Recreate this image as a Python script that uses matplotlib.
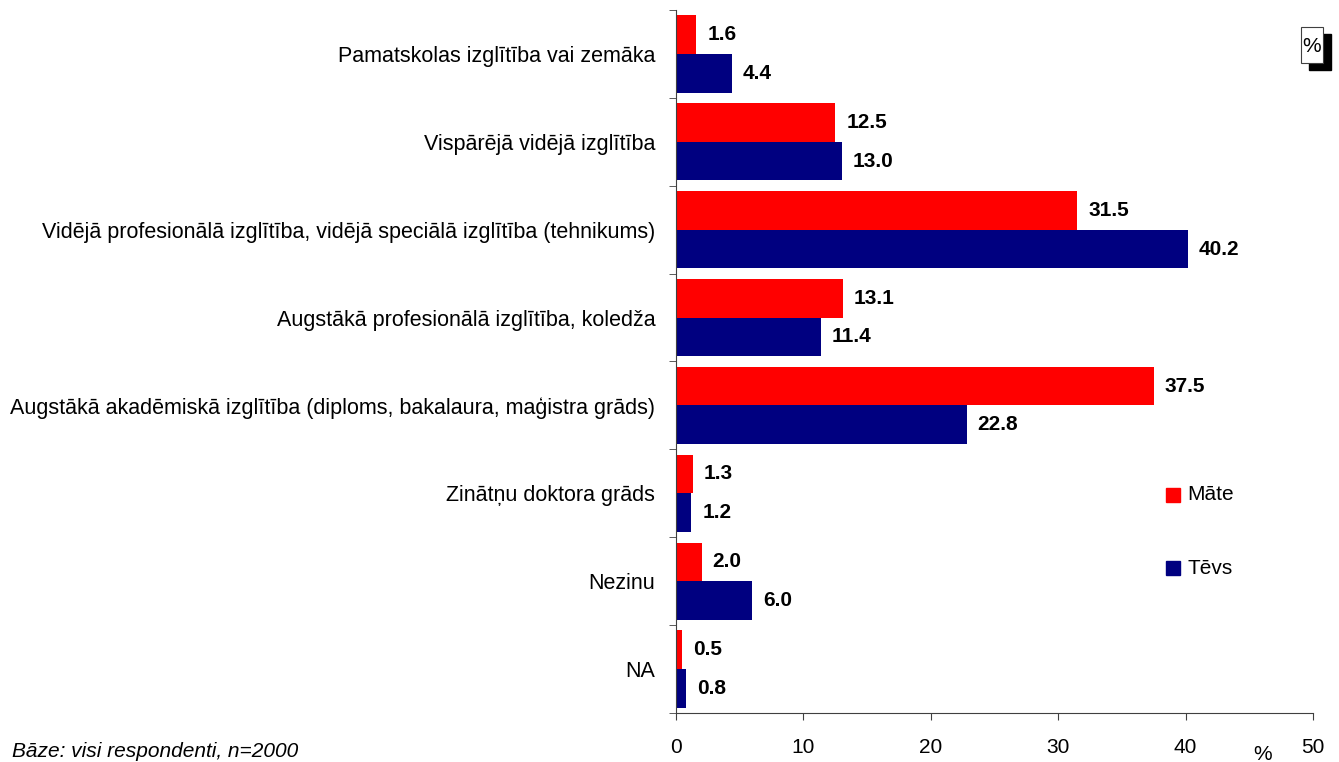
import matplotlib.pyplot as plt
import numpy as np
from matplotlib.patches import Rectangle

plt.rcParams['font.family'] = ['Liberation Sans', 'DejaVu Sans']

categories = [
    'Pamatskolas izglītība vai zemāka',
    'Vispārējā vidējā izglītība',
    'Vidējā profesionālā izglītība, vidējā speciālā izglītība (tehnikums)',
    'Augstākā profesionālā izglītība, koledža',
    'Augstākā akadēmiskā izglītība (diploms, bakalaura, maģistra grāds)',
    'Zinātņu doktora grāds',
    'Nezinu',
    'NA',
]
mate = [1.6, 12.5, 31.5, 13.1, 37.5, 1.3, 2.0, 0.5]
tevs = [4.4, 13.0, 40.2, 11.4, 22.8, 1.2, 6.0, 0.8]
series_names = ['Māte', 'Tēvs']
red = '#ff0000'
navy = '#000080'
fs = 15

fig = plt.figure(figsize=(13.39, 7.62), dpi=100)
ax = fig.add_axes([0.5049, 0.0643, 0.4757, 0.9226])

y = np.arange(len(categories))
h = 0.44
ax.barh(y - h / 2, mate, height=h, color=red)
ax.barh(y + h / 2, tevs, height=h, color=navy)

for i in range(len(categories)):
    ax.text(mate[i] + 0.85, y[i] - h / 2, f'{mate[i]:.1f}', va='center', ha='left',
            fontsize=fs, fontweight='bold')
    ax.text(tevs[i] + 0.85, y[i] + h / 2, f'{tevs[i]:.1f}', va='center', ha='left',
            fontsize=fs, fontweight='bold')

ax.set_xlim(0, 50)
ax.set_ylim(len(categories) - 0.5, -0.5)
ax.set_xticks([0, 10, 20, 30, 40, 50])
ax.tick_params(axis='x', labelsize=fs, length=5, pad=13, color='#404040')
ax.set_yticks(y)
ax.set_yticklabels(categories, fontsize=15.5)
ax.tick_params(axis='y', length=0, pad=15)
ax.set_yticks(np.arange(len(categories) + 1) - 0.5, minor=True)
ax.tick_params(axis='y', which='minor', length=5, color='#404040')
for s in ['top', 'right']:
    ax.spines[s].set_visible(False)
for s in ['left', 'bottom']:
    ax.spines[s].set_color('#404040')

# legend
fig.patches.append(Rectangle((1166 / 1339, 1 - 502 / 762), 14 / 1339, 14 / 762,
                             transform=fig.transFigure, color=red))
fig.text(1187 / 1339, 1 - 495 / 762, series_names[0], fontsize=fs, va='center')
fig.patches.append(Rectangle((1166 / 1339, 1 - 575 / 762), 14 / 1339, 14 / 762,
                             transform=fig.transFigure, color=navy))
fig.text(1187 / 1339, 1 - 568 / 762, series_names[1], fontsize=fs, va='center')

# percent box with shadow
fig.patches.append(Rectangle((1309 / 1339, 1 - 70 / 762), 22 / 1339, 36 / 762,
                             transform=fig.transFigure, color='black'))
fig.patches.append(Rectangle((1301 / 1339, 1 - 63 / 762), 22 / 1339, 36 / 762,
                             transform=fig.transFigure, facecolor='white',
                             edgecolor='#404040', linewidth=0.8))
fig.text(1312 / 1339, 1 - 46 / 762, '%', fontsize=fs, ha='center', va='center')

fig.text(1263 / 1339, 1 - 754 / 762, '%', fontsize=fs, ha='center', va='center')
fig.text(12 / 1339, 1 - 757 / 762, 'Bāze: visi respondenti, n=2000', fontsize=fs,
         style='italic', va='baseline')

fig.savefig('out.png', dpi=100)
